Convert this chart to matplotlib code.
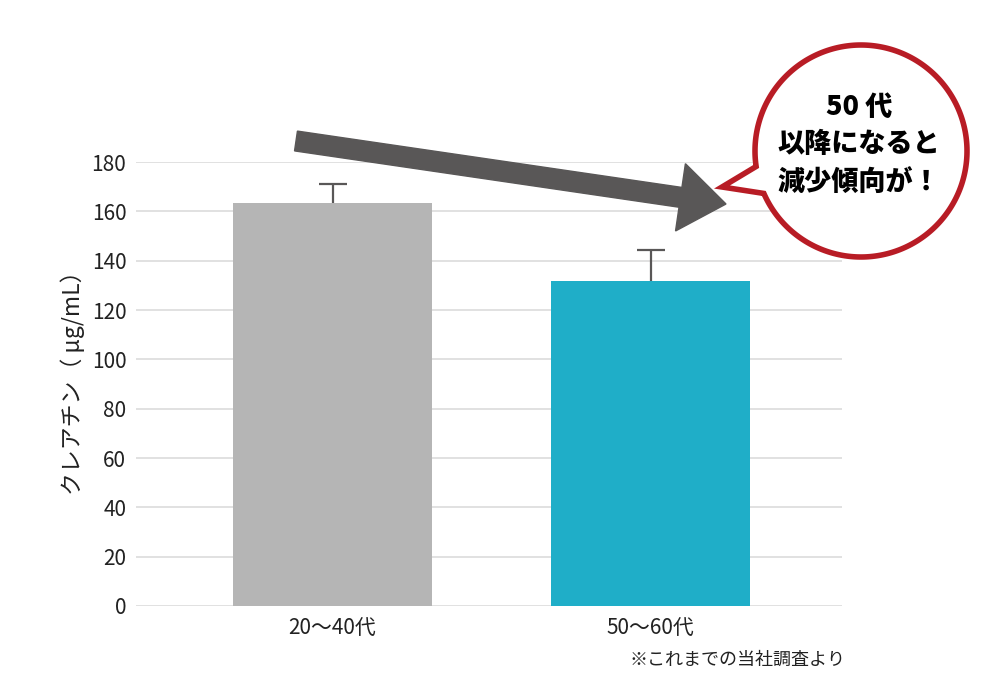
import numpy as np
import matplotlib
matplotlib.use("Agg")
import matplotlib.pyplot as plt
import matplotlib.patches as mpatches
from matplotlib.path import Path
from matplotlib.transforms import IdentityTransform

plt.rcParams['font.family'] = ['Noto Sans CJK JP', 'DejaVu Sans']

categories = ['20～40代', '50～60代']
values = [163.5, 131.8]
err_upper = [7.5, 12.5]
bar_colors = ['#b5b5b5', '#1faec8']
yticks = [0, 20, 40, 60, 80, 100, 120, 140, 160, 180]
ylabel = 'クレアチン（ μg/mL）'
bubble_lines = '50 代\n以降になると\n減少傾向が！'
note = '※これまでの当社調査より'

W, H = 1000, 700
fig = plt.figure(figsize=(10, 7), dpi=100)
ax = fig.add_axes([136 / W, 1 - 606 / H, (842 - 136) / W, (606 - 162) / H])

x = np.arange(len(categories))
ax.bar(x, values, width=0.626, color=bar_colors, zorder=3)
eb = ax.errorbar(x, values, yerr=[np.zeros(len(values)), err_upper], fmt='none',
                 ecolor='#595757', elinewidth=1.6, capsize=10, capthick=1.6, zorder=2.5)
# only the upper cap is drawn in the original
for cap in eb[1]:
    if np.allclose(cap.get_ydata(), values):
        cap.set_visible(False)

ax.set_xlim(-0.618, 1.602)
ax.set_ylim(0, 180)
ax.set_yticks(yticks)
ax.set_xticks(x)
ax.set_xticklabels(categories, fontsize=15.5)
ax.grid(axis='y', color='#dcdcdc', linewidth=1.2, zorder=0)
for s in ax.spines.values():
    s.set_visible(False)
ax.tick_params(length=0, labelsize=15, colors='#222222')
ax.tick_params(axis='y', pad=7)
ax.tick_params(axis='x', pad=8)
ax.set_ylabel(ylabel, fontsize=16.5, color='#222222')
ax.yaxis.set_label_coords(-0.072, 0.515)

fig.text(845 / W, 1 - 660 / H, note, ha='right', va='center', fontsize=13, color='#222222')

# big arrow (pixel coordinates, image y flipped)
tail = np.array([296, H - 141])
tip = np.array([726, H - 204])
arrow = mpatches.FancyArrow(tail[0], tail[1], tip[0] - tail[0], tip[1] - tail[1],
                            width=20, head_width=68, head_length=46,
                            length_includes_head=True, color='#595757',
                            transform=IdentityTransform(), zorder=5)
fig.add_artist(arrow)

# speech bubble
cx, cy, r = 861, H - 151, 106
a1, a2 = np.deg2rad(203.6), np.deg2rad(188.4 + 360)
ang = np.linspace(a1, a2, 300)
pts = np.column_stack([cx + r * np.cos(ang), cy + r * np.sin(ang)])
pts = np.vstack([pts, [722, H - 187], pts[0]])
bubble = mpatches.PathPatch(Path(pts, closed=True), facecolor='white',
                            edgecolor='#b81c25', linewidth=4,
                            joinstyle='miter', transform=IdentityTransform(), zorder=6)
fig.add_artist(bubble)
fig.text(859 / W, 1 - 144 / H, bubble_lines, ha='center', va='center',
         fontsize=19.5, fontweight='heavy', linespacing=1.4, color='black', zorder=7)

fig.savefig('out.png', dpi=100)
